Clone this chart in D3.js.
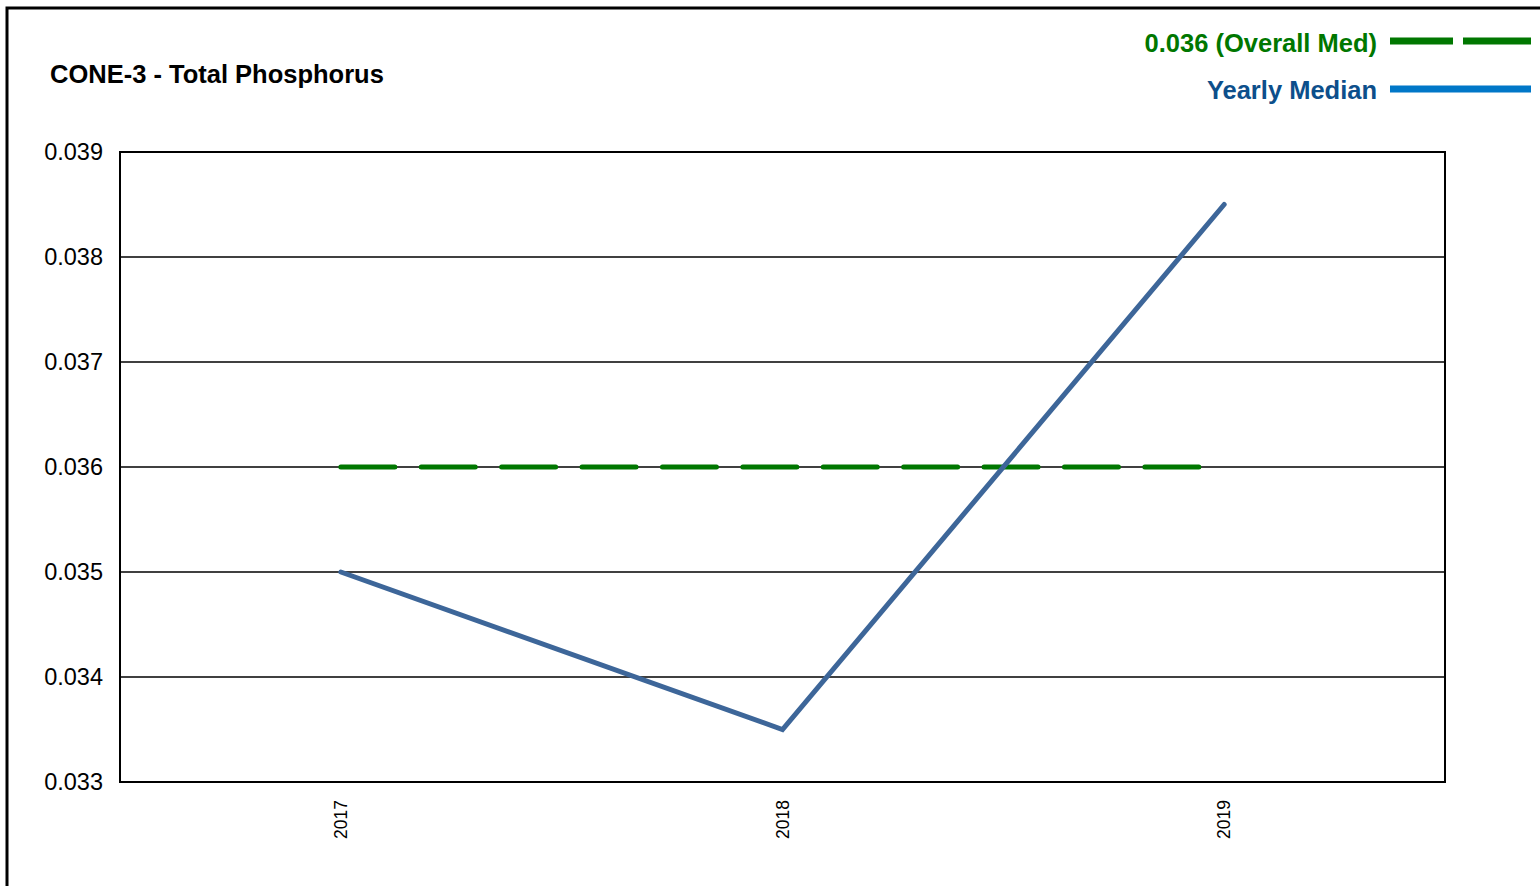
<!DOCTYPE html>
<html><head><meta charset="utf-8">
<script src="https://cdn.jsdelivr.net/npm/d3@7"></script>
<style>body{margin:0;background:#fff}svg{display:block}</style>
</head><body>
<svg id="c" width="1540" height="886"></svg>
<script>
const years = ["2017","2018","2019"];
const yearlyMedian = [0.035, 0.0335, 0.0385];
const overallMedian = 0.036;
const yTicks = [0.033,0.034,0.035,0.036,0.037,0.038,0.039];
const title = "CONE-3 - Total Phosphorus";
const legendLabels = ["0.036 (Overall Med)","Yearly Median"];

const svg = d3.select("#c");
const font = "Liberation Sans, Arial, sans-serif";
// outer border
svg.append("rect").attr("x",7).attr("y",8).attr("width",1560).attr("height",900)
  .attr("fill","none").attr("stroke","#000").attr("stroke-width",3);

const L=120,R=1445,T=152,B=782;
const x = d3.scaleBand().domain(years).range([L,R]);
const xc = d => x(d)+x.bandwidth()/2;
const y = d3.scaleLinear().domain([0.033,0.039]).range([B,T]);

// gridlines
svg.append("g").selectAll("line").data(yTicks).join("line")
  .attr("x1",L).attr("x2",R).attr("y1",d=>y(d)).attr("y2",d=>y(d))
  .attr("stroke","#000").attr("stroke-width",1.5);
svg.append("rect").attr("x",L).attr("y",T).attr("width",R-L).attr("height",B-T)
  .attr("fill","none").attr("stroke","#000").attr("stroke-width",2);

// y labels
svg.append("g").selectAll("text").data(yTicks).join("text")
  .attr("x",103).attr("y",d=>y(d)+7.5).attr("text-anchor","end")
  .attr("font-family",font).attr("font-size",23.5).attr("fill","#000")
  .text(d=>d3.format(".3f")(d));

// x labels
svg.append("g").selectAll("text").data(years).join("text")
  .attr("transform",d=>`translate(${xc(d)+6},800) rotate(-90)`)
  .attr("text-anchor","end").attr("font-family",font).attr("font-size",17.5).attr("fill","#000")
  .text(d=>d);

// overall median dashed
svg.append("line").attr("x1",xc(years[0])).attr("x2",xc(years[years.length-1]))
  .attr("y1",y(overallMedian)).attr("y2",y(overallMedian))
  .attr("stroke","#007700").attr("stroke-width",5).attr("stroke-linecap","round")
  .attr("stroke-dasharray","54,26.4");

// yearly median line
const line = d3.line().x((d,i)=>xc(years[i])).y(d=>y(d));
svg.append("path").datum(yearlyMedian).attr("d",line).attr("fill","none")
  .attr("stroke","#3d6699").attr("stroke-width",5).attr("stroke-linecap","round").attr("stroke-linejoin","miter");

// title
svg.append("text").attr("x",50).attr("y",83).attr("font-family",font).attr("font-weight","bold")
  .attr("font-size",25.5).attr("fill","#000").text(title);

// legend
svg.append("text").attr("x",1377).attr("y",52).attr("text-anchor","end").attr("font-family",font)
  .attr("font-weight","bold").attr("font-size",25.5).attr("fill","#007700").text(legendLabels[0]);
svg.append("line").attr("x1",1390).attr("x2",1453).attr("y1",41).attr("y2",41).attr("stroke","#007700").attr("stroke-width",7);
svg.append("line").attr("x1",1463).attr("x2",1531).attr("y1",41).attr("y2",41).attr("stroke","#007700").attr("stroke-width",7);
svg.append("text").attr("x",1377).attr("y",99).attr("text-anchor","end").attr("font-family",font)
  .attr("font-weight","bold").attr("font-size",25.5).attr("fill","#0d4f8b").text(legendLabels[1]);
svg.append("line").attr("x1",1390).attr("x2",1531).attr("y1",89).attr("y2",89).attr("stroke","#0077c8").attr("stroke-width",7);
</script>
</body></html>
